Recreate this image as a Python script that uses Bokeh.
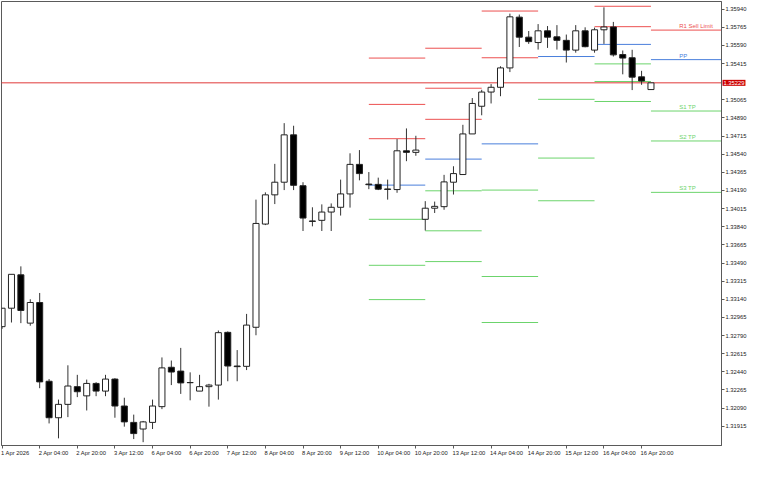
from bokeh.plotting import figure
from bokeh.models import FixedTicker, Range1d, Label, ColumnDataSource, NumeralTickFormatter, LinearAxis
from bokeh.embed import file_html
from bokeh.resources import INLINE
from bokeh.core.properties import value

# ---- candle data (H4 bars, index 0..69) ----
opens = [1.32876, 1.33054, 1.33376, 1.32910, 1.33109, 1.32349, 1.31997, 1.32126, 1.32297, 1.32208,
         1.32328, 1.32254, 1.32370, 1.32110, 1.31952, 1.31888, 1.31952, 1.32104, 1.32484, 1.32447,
         1.32337, 1.32254, 1.32297, 1.32312, 1.32821, 1.32496, 1.32493, 1.32870, 1.33866, 1.34148,
         1.34270, 1.34727, 1.34236, 1.33896, 1.33902, 1.33982, 1.34028, 1.34157, 1.34442, 1.34252,
         1.34249, 1.34205, 1.34199, 1.34573, 1.34558, 1.33912, 1.34019, 1.34034, 1.34270, 1.34344,
         1.34736, 1.35003, 1.35140, 1.35186, 1.35373, 1.35863, 1.35670, 1.35618, 1.35731, 1.35673,
         1.35639, 1.35545, 1.35731, 1.35545, 1.35741, 1.35768, 1.35502, 1.35471, 1.35287, 1.35164]
highs = [1.33054, 1.33381, 1.33458, 1.33140, 1.33201, 1.32370, 1.32172, 1.32503, 1.32411, 1.32365,
         1.32340, 1.32411, 1.32379, 1.32190, 1.32027, 1.31966, 1.32172, 1.32579, 1.32549, 1.32671,
         1.32435, 1.32411, 1.32324, 1.32839, 1.32830, 1.32650, 1.32999, 1.34102, 1.34172, 1.34447,
         1.34840, 1.34815, 1.34270, 1.34028, 1.34056, 1.34065, 1.34295, 1.34549, 1.34580, 1.34368,
         1.34314, 1.34295, 1.34686, 1.34789, 1.34718, 1.34087, 1.34083, 1.34341, 1.34424, 1.34824,
         1.35082, 1.35162, 1.35217, 1.35389, 1.35897, 1.35888, 1.35729, 1.35796, 1.35777, 1.35786,
         1.35695, 1.35786, 1.35765, 1.35762, 1.35958, 1.35817, 1.35541, 1.35548, 1.35345, 1.35229]
lows = [1.32855, 1.32916, 1.32910, 1.32885, 1.32282, 1.31942, 1.31798, 1.32003, 1.32196, 1.32067,
        1.32205, 1.32205, 1.31997, 1.31911, 1.31791, 1.31761, 1.31888, 1.32080, 1.32312, 1.32227,
        1.32165, 1.32254, 1.32104, 1.32172, 1.32349, 1.32349, 1.32457, 1.32793, 1.33856, 1.34059,
        1.34194, 1.34194, 1.33799, 1.33844, 1.33799, 1.33799, 1.33948, 1.34025, 1.34288, 1.34203,
        1.34194, 1.34102, 1.34168, 1.34473, 1.34525, 1.33804, 1.33973, 1.34004, 1.34151, 1.34341,
        1.34736, 1.34916, 1.35030, 1.35100, 1.35333, 1.35575, 1.35605, 1.35550, 1.35566, 1.35550,
        1.35425, 1.35520, 1.35572, 1.35520, 1.35605, 1.35483, 1.35311, 1.35159, 1.35210, 1.35164]
closes = [1.33054, 1.33381, 1.33032, 1.33109, 1.32343, 1.31997, 1.32126, 1.32303, 1.32248, 1.32328,
          1.32254, 1.32370, 1.32110, 1.31957, 1.31844, 1.31957, 1.32110, 1.32478, 1.32438, 1.32333,
          1.32335, 1.32297, 1.32312, 1.32818, 1.32496, 1.32490, 1.32891, 1.33872, 1.34148, 1.34270,
          1.34727, 1.34240, 1.33924, 1.33892, 1.33982, 1.34028, 1.34157, 1.34442, 1.34353, 1.34246,
          1.34203, 1.34200, 1.34573, 1.34558, 1.34580, 1.34019, 1.34037, 1.34273, 1.34353, 1.34736,
          1.35030, 1.35140, 1.35186, 1.35373, 1.35866, 1.35670, 1.35627, 1.35731, 1.35670, 1.35639,
          1.35545, 1.35731, 1.35578, 1.35741, 1.35768, 1.35499, 1.35468, 1.35284, 1.35247, 1.35229]
bars = list(range(len(opens)))

# ---- time axis labels ----
time_tick_bars = [0, 4, 8, 12, 16, 20, 24, 28, 32, 36, 40, 44, 48, 52, 56, 60, 64, 68]
time_tick_labels = ["1 Apr 2026", "2 Apr 04:00", "2 Apr 20:00", "3 Apr 12:00", "6 Apr 04:00",
                    "6 Apr 20:00", "7 Apr 12:00", "8 Apr 04:00", "8 Apr 20:00", "9 Apr 12:00",
                    "10 Apr 04:00", "10 Apr 20:00", "13 Apr 12:00", "14 Apr 04:00", "14 Apr 20:00",
                    "15 Apr 12:00", "16 Apr 04:00", "16 Apr 20:00"]

# ---- price axis labels (1.35240 is hidden behind the price tag in the reference) ----
price_ticks = [1.31915, 1.32090, 1.32265, 1.32440, 1.32615, 1.32790, 1.32965, 1.33140, 1.33315,
               1.33490, 1.33665, 1.33840, 1.34015, 1.34190, 1.34365, 1.34540, 1.34715, 1.34890,
               1.35065, 1.35415, 1.35590, 1.35765, 1.35940]

# ---- daily pivot levels (segments per day) ----
day_start = [39, 45, 51, 57, 63, 69]
day_end = [45, 51, 57, 63, 69, 76.5]
r3_levels = [1.35468, 1.35563, None, None, None, None]
r2_levels = [1.35021, 1.35177, 1.35922, None, 1.35968, None]
r1_levels = [1.34690, 1.34877, 1.35471, None, 1.35771, 1.35738]
pp_levels = [1.34242, 1.34493, 1.34640, 1.35483, 1.35600, 1.35453]
s1_levels = [1.33912, 1.34187, 1.34194, 1.35070, 1.35412, 1.34957]
s2_levels = [1.33468, 1.33801, 1.33360, 1.34503, 1.35242, 1.34668]
s3_levels = [1.33137, 1.33504, 1.32916, 1.34091, 1.35049, 1.34172]

level_names = ["R1 Sell Limit", "PP", "S1 TP", "S2 TP", "S3 TP"]
current_price = 1.35229

RED = "#ec5050"
BLUE = "#4a7fdc"
GREEN = "#6cd46c"
FONT = "Liberation Sans"
FS = 5.8
X0, X1 = -0.06, 76.5
W, H = 752, 464
RB, LB = 31, 1

p = figure(width=W, height=H, output_backend="svg", toolbar_location=None,
           x_range=Range1d(X0, X1), y_range=Range1d(1.31729, 1.36014),
           y_axis_location="right", min_border_left=LB, min_border_top=1,
           min_border_right=RB, min_border_bottom=12)
p.grid.visible = False
p.background_fill_color = "white"
p.border_fill_color = "white"
p.outline_line_color = "#5a5a5a"
p.outline_line_width = 1

# price axis
ya = p.yaxis[0]
ya.ticker = FixedTicker(ticks=price_ticks)
ya.formatter = NumeralTickFormatter(format="0.00000")
ya.major_label_text_font = FONT
ya.major_label_text_font_size = f"{FS}px"
ya.major_label_text_color = "#222222"
ya.major_tick_out = 3
ya.major_tick_in = 0
ya.minor_tick_out = 0
ya.minor_tick_in = 0
ya.major_label_standoff = 1
ya.axis_line_color = "#5a5a5a"
ya.major_tick_line_color = "#5a5a5a"

# time axis: tick marks only (its labels are not drawn)
xa = p.xaxis[0]
xa.ticker = FixedTicker(ticks=time_tick_bars)
xa.major_label_text_font_size = "1px"
xa.major_label_text_color = None
xa.major_label_standoff = 0
xa.major_tick_out = 3
xa.major_tick_in = 0
xa.minor_tick_out = 0
xa.minor_tick_in = 0
xa.axis_line_color = "#5a5a5a"
xa.major_tick_line_color = "#5a5a5a"

# time axis labels, left-aligned at each tick (shifted by half the text width)
char_w = {" ": 0.278, ":": 0.278, "A": 0.667, "p": 0.556, "r": 0.333}
px_per_bar = (W - LB - RB) / (X1 - X0)
def half_width_bars(s):
    wpx = sum(char_w.get(ch, 0.556) for ch in s) * FS
    return (wpx / 2 - 1) / px_per_bar
label_pos = [b + half_width_bars(t) for b, t in zip(time_tick_bars, time_tick_labels)]
xl = LinearAxis()
xl.ticker = FixedTicker(ticks=label_pos)
xl.major_label_overrides = {pos: t for pos, t in zip(label_pos, time_tick_labels)}
xl.major_label_text_font = FONT
xl.major_label_text_font_size = f"{FS}px"
xl.major_label_text_color = "#222222"
xl.major_label_standoff = 1
xl.major_tick_out = 0
xl.major_tick_in = 0
xl.minor_tick_out = 0
xl.minor_tick_in = 0
xl.axis_line_color = None
xl.major_tick_line_color = None
p.add_layout(xl, "below")

# pivot segments
for levels, color in [(r3_levels, RED), (r2_levels, RED), (r1_levels, RED),
                      (pp_levels, BLUE), (s1_levels, GREEN), (s2_levels, GREEN), (s3_levels, GREEN)]:
    x0 = [a for a, v in zip(day_start, levels) if v is not None]
    x1 = [b for b, v in zip(day_end, levels) if v is not None]
    yv = [v for v in levels if v is not None]
    p.segment(x0=x0, y0=yv, x1=x1, y1=yv, line_color=color, line_width=1)

# current price line
p.line(x=[-1, 80], y=[current_price, current_price], line_color="#e03a3a", line_width=1)

# candles
body_top = [max(o, c) for o, c in zip(opens, closes)]
body_bot = [min(o, c) for o, c in zip(opens, closes)]
fills = ["white" if c >= o else "black" for o, c in zip(opens, closes)]
src = ColumnDataSource(dict(x=bars, high=highs, low=lows, top=body_top, bottom=body_bot, fill=fills))
p.segment(x0="x", y0="high", x1="x", y1="low", source=src, line_color="#333333", line_width=1)
p.vbar(x="x", width=0.64, top="top", bottom="bottom", fill_color="fill",
       line_color="#222222", line_width=1, source=src)

# level labels of the current day
label_levels = [r1_levels[-1], pp_levels[-1], s1_levels[-1], s2_levels[-1], s3_levels[-1]]
label_colors = [RED, BLUE, GREEN, GREEN, GREEN]
p.text(x=[72] * 5, y=label_levels, text=level_names, text_color=label_colors,
       text_font=value(FONT), text_font_size="6px", text_baseline="bottom",
       text_align="left", y_offset=-1)

# current price tag on the price axis (held in the bottom panel so it is not clipped)
tag = Label(x=X1, y=current_price, text="1.35229", text_color="white",
            text_font=FONT, text_font_size=f"{FS}px", text_baseline="middle",
            background_fill_color="#cc0000", x_offset=1, padding=1)
p.add_layout(tag, "below")

open("out.html", "w").write(file_html(p, INLINE))
